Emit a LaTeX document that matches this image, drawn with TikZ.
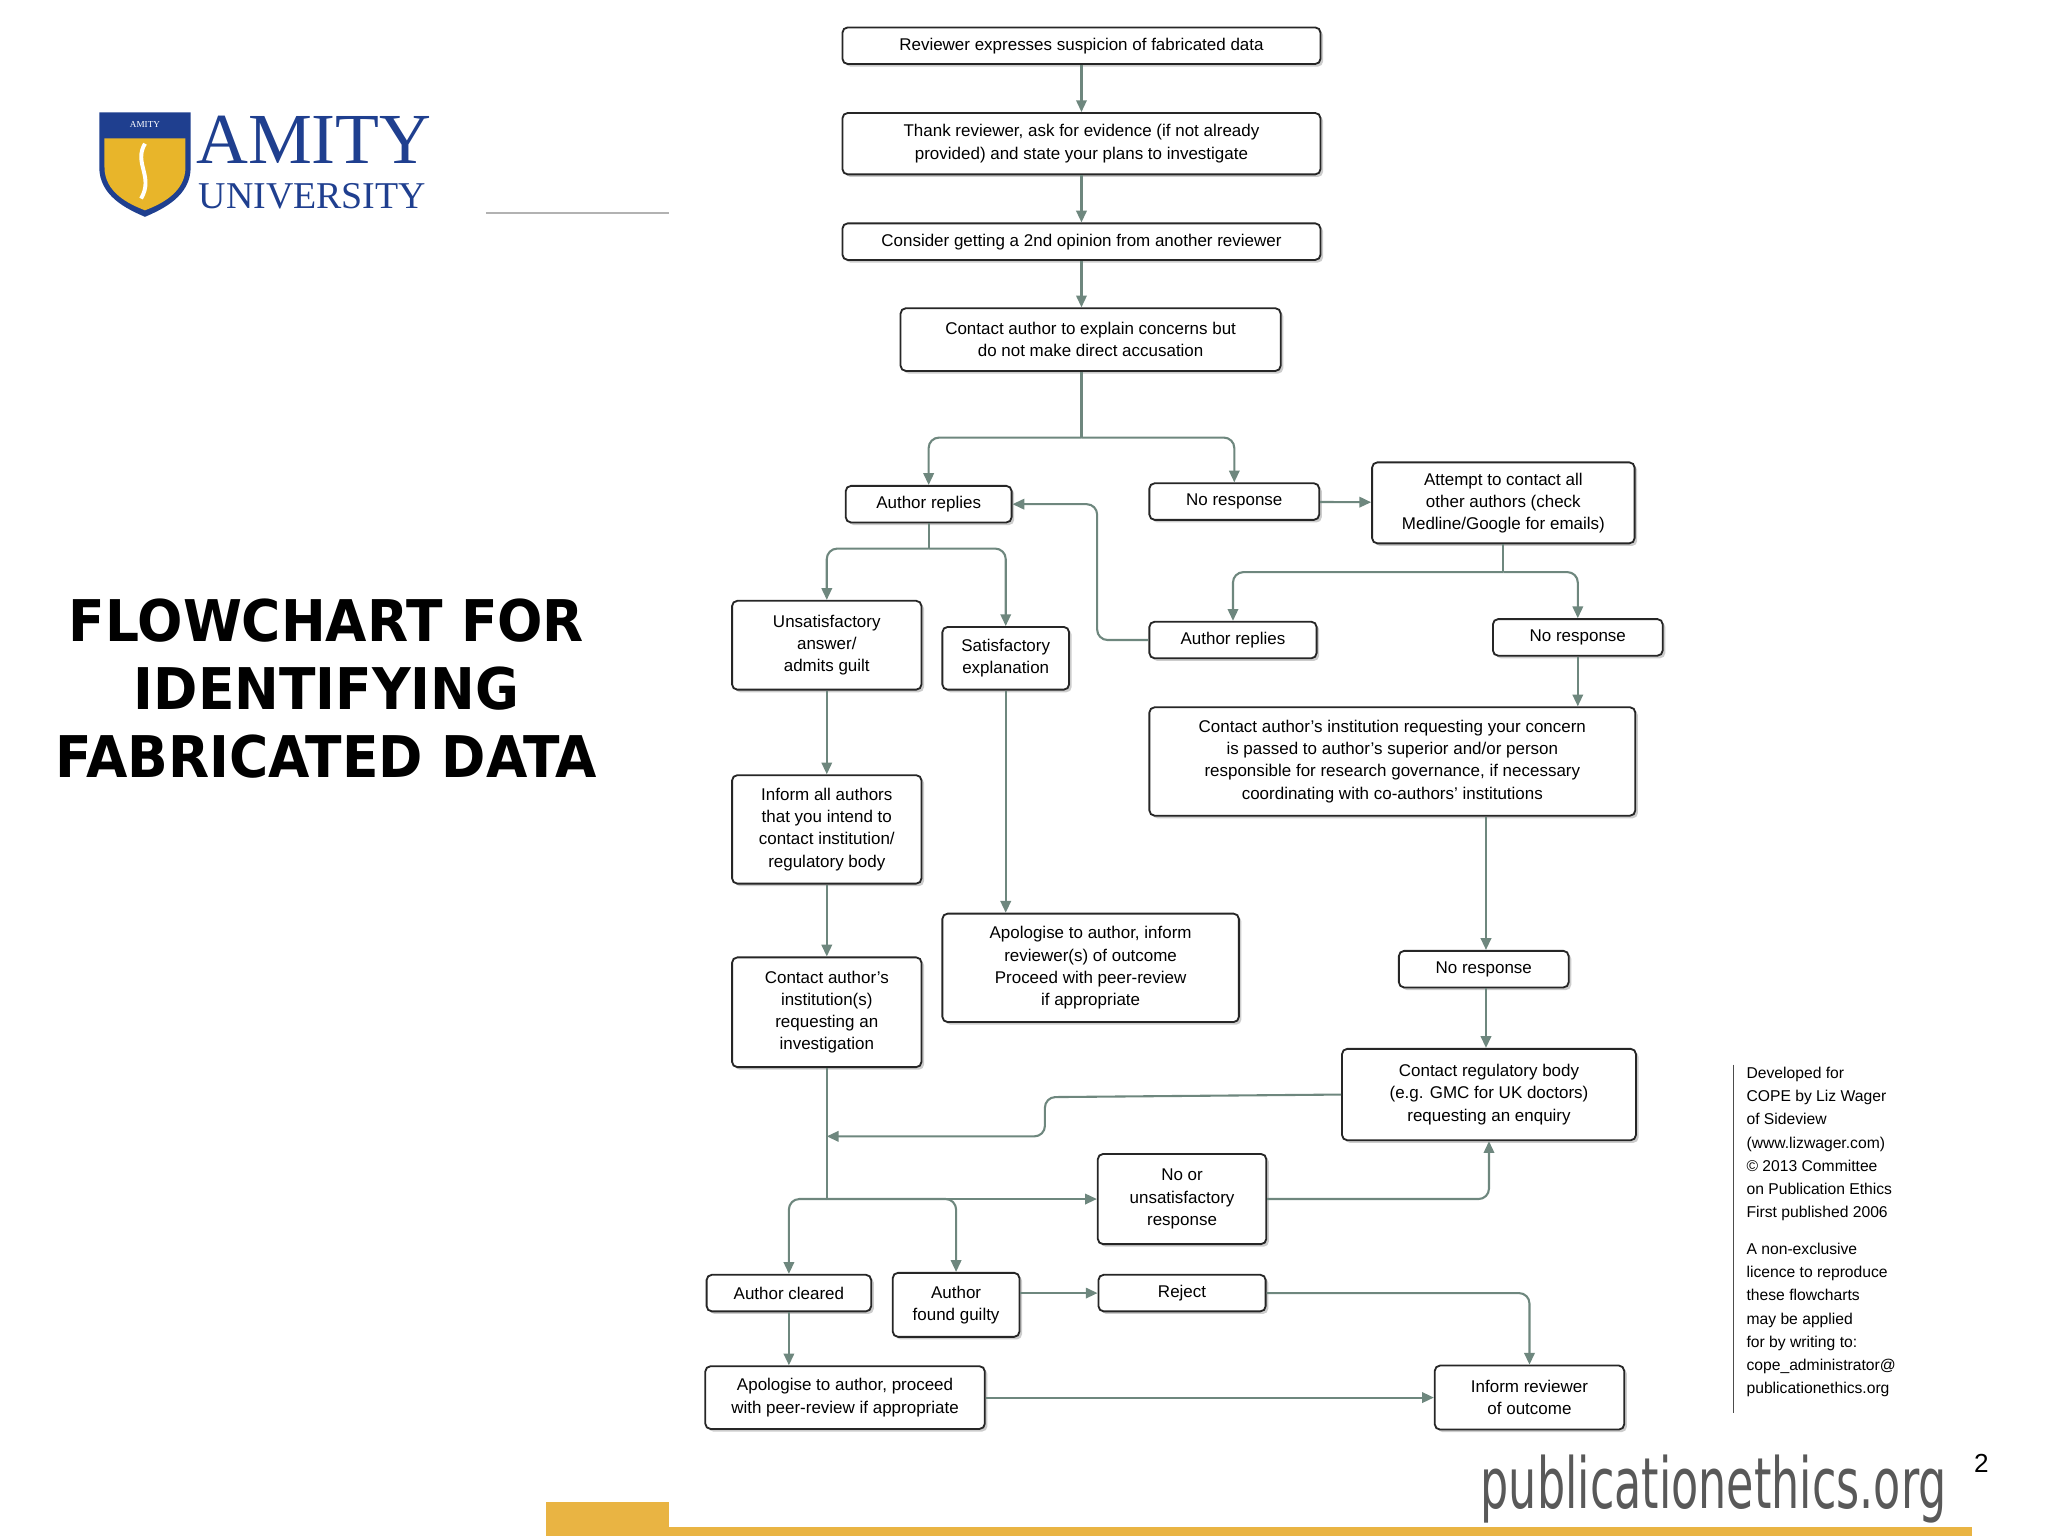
\documentclass[tikz,border=0pt]{standalone}
\usepackage{fontspec}
\setmainfont{Liberation Sans}
\newfontfamily\titlefont{DejaVu Sans}
\usetikzlibrary{shadows,arrows.meta}
\definecolor{arr}{HTML}{6E877E}
\definecolor{amblue}{HTML}{1F3F8F}
\definecolor{amgold}{HTML}{E8B52A}
\definecolor{barg}{HTML}{E9B443}
\tikzset{
 bx/.style={draw=black!85,line width=1.4pt,rounded corners=4pt,fill=white,align=center,
   drop shadow={shadow xshift=2pt,shadow yshift=-2pt,fill=black!40},
   font=\fontsize{13}{17}\selectfont,inner sep=2pt,minimum height=28pt},
 cn/.style={draw=arr,line width=1.6pt,rounded corners=8pt},
 ar/.style={cn,-{Triangle[length=9pt,width=8pt]}}
}
\begin{document}
\begin{tikzpicture}[x=1pt,y=-1pt]
\useasboundingbox (0,0) rectangle (1568,1176);
% logo
\fill[amblue] (76,86) -- (146,86) -- (146,128) .. controls (146,150) and (125,160) .. (111,166) .. controls (97,160) and (76,150) .. (76,128) -- cycle;
\fill[amgold] (80,106) -- (142,106) -- (142,128) .. controls (142,147) and (124,156) .. (111,161) .. controls (98,156) and (80,147) .. (80,128) -- cycle;
\draw[white,line width=3pt] (111,110) .. controls (102,125) and (118,135) .. (108,152);
\node[white,font=\fontsize{7}{7}\selectfont\setmainfont{Liberation Serif}] (lg) at (111,95) {AMITY};
\node[amblue,font=\fontsize{55}{55}\selectfont\setmainfont{Liberation Serif},anchor=west,inner sep=0pt] (amity) at (150,107) {AMITY};
\node[amblue,font=\fontsize{29}{29}\selectfont\setmainfont{Liberation Serif},anchor=west,inner sep=0pt] (univ) at (152,150) {UNIVERSITY};
\draw[black!30,line width=1pt] (372,163) -- (512,163);
% title
\node[font=\titlefont\bfseries\fontsize{44}{52}\selectfont,align=center,xscale=0.93] (title) at (250,527) {FLOWCHART FOR\\IDENTIFYING\\FABRICATED DATA};
% bottom
\fill[barg] (418,1150) rectangle (512,1176);
\fill[barg] (512,1169) rectangle (1510,1176);
\node[font=\titlefont\fontsize{54}{54}\selectfont,text=black!65,xscale=0.63] (pe) at (1312,1140) {publicationethics.org};
\node[font=\fontsize{20}{20}\selectfont] (pg) at (1517,1120) {2};
% side note
\draw[black!70,line width=1pt] (1327,815) -- (1327,1082);
\node[anchor=north west,align=left,font=\fontsize{12}{17.7}\selectfont,inner sep=0pt] (side) at (1337,817) {Developed for\\COPE by Liz Wager\\of Sideview\\(www.lizwager.com)\\\textcopyright{} 2013 Committee\\on Publication Ethics\\First published 2006\\[0.9em]A non-exclusive\\licence to reproduce\\these flowcharts\\may be applied\\for by writing to:\\cope\_administrator@\\publicationethics.org};
% nodes
\node[bx,minimum width=366pt] (n1) at (828,35) {Reviewer expresses suspicion of fabricated data};
\node[bx,minimum width=366pt,minimum height=47pt] (n2) at (828,110) {Thank reviewer, ask for evidence (if not already\\provided) and state your plans to investigate};
\node[bx,minimum width=366pt] (n3) at (828,185) {Consider getting a 2nd opinion from another reviewer};
\node[bx,minimum width=291pt,minimum height=48pt] (n4) at (835,260) {Contact author to explain concerns but\\do not make direct accusation};
\node[bx,minimum width=127pt] (n5) at (711,386) {Author replies};
\node[bx,minimum width=130pt] (n6) at (945,384) {No response};
\node[bx,minimum width=201pt,minimum height=62pt] (n7) at (1151,385) {Attempt to contact all\\other authors (check\\Medline/Google for emails)};
\node[bx,minimum width=128pt] (n8) at (944,490) {Author replies};
\node[bx,minimum width=130pt] (n9) at (1208,488) {No response};
\node[bx,minimum width=372pt,minimum height=83pt] (n10) at (1066,583) {Contact author's institution requesting your concern\\is passed to author's superior and/or person\\responsible for research governance, if necessary\\coordinating with co-authors' institutions};
\node[bx,minimum width=145pt,minimum height=68pt] (n11) at (633,494) {Unsatisfactory\\answer/\\admits guilt};
\node[bx,minimum width=97pt,minimum height=48pt] (n12) at (770,504) {Satisfactory\\explanation};
\node[bx,minimum width=145pt,minimum height=83pt] (n13) at (633,635) {Inform all authors\\that you intend to\\contact institution/\\regulatory body};
\node[bx,minimum width=145pt,minimum height=84pt] (n14) at (633,775) {Contact author's\\institution(s)\\requesting an\\investigation};
\node[bx,minimum width=227pt,minimum height=83pt] (n15) at (835,741) {Apologise to author, inform\\reviewer(s) of outcome\\Proceed with peer-review\\if appropriate};
\node[bx,minimum width=130pt] (n16) at (1136,742) {No response};
\node[bx,minimum width=225pt,minimum height=70pt] (n17) at (1140,838) {Contact regulatory body\\(e.g. GMC for UK doctors)\\requesting an enquiry};
\node[bx,minimum width=129pt,minimum height=69pt] (n18) at (905,918) {No or\\unsatisfactory\\response};
\node[bx,minimum width=126pt] (n19) at (604,990) {Author cleared};
\node[bx,minimum width=97pt,minimum height=49pt] (n20) at (732,999) {Author\\found guilty};
\node[bx,minimum width=128pt] (n21) at (905,990) {Reject};
\node[bx,minimum width=145pt,minimum height=49pt] (n22) at (1171,1070) {Inform reviewer\\of outcome};
\node[bx,minimum width=214pt,minimum height=48pt] (n23) at (647,1070) {Apologise to author, proceed\\with peer-review if appropriate};
% connectors
\draw[ar] (n1) -- (n2);
\draw[ar] (n2) -- (n3);
\draw[ar] (n3) -- (n4.north -| n3);
\coordinate (s4) at (828,335);
\draw[cn] (n4.south -| n3) -- (s4);
\draw[ar] (s4) -| (n5.north);
\draw[ar] (s4) -| (n6.north);
\draw[ar] (n6) -- (n7);
\coordinate (s7) at (1151,438);
\draw[cn] (n7.south) -- (s7);
\draw[ar] (s7) -| (n8.north);
\draw[ar] (s7) -| (n9.north);
\draw[ar] (n8.west) -| (840,386) -- (n5.east);
\draw[ar] (n9) -- (n10.north -| n9);
\coordinate (s5) at (711,420);
\draw[cn] (n5.south) -- (s5);
\draw[ar] (s5) -| (n11.north);
\draw[ar] (s5) -| (n12.north);
\draw[ar] (n11) -- (n13);
\draw[ar] (n13) -- (n14);
\draw[ar] (n12) -- (n15.north -| n12);
\draw[ar] (n10.south -| n16.north east) ++(-64,0) coordinate (t10) -- (t10 |- n16.north);
\draw[ar] (n16.south -| t10) -- (t10 |- n17.north);
\coordinate (m14) at (633,870);
\draw[ar] (n17.west) -- (800,840) -- (800,870) -- (m14);
\coordinate (s14) at (633,918);
\draw[cn] (n14.south) -- (s14);
\draw[ar] (s14) -| (n19.north);
\draw[ar] (s14) -| (n20.north);
\draw[ar] (s14) -- (n18.west);
\draw[ar] (n18.east) -| (n17.south);
\draw[ar] (n20.east |- n21) -- (n21.west);
\draw[ar] (n21.east) -| (n22.north);
\draw[ar] (n19) -- (n23.north -| n19);
\draw[ar] (n23.east) -- (n22.west |- n23.east);
\end{tikzpicture}
\end{document}
